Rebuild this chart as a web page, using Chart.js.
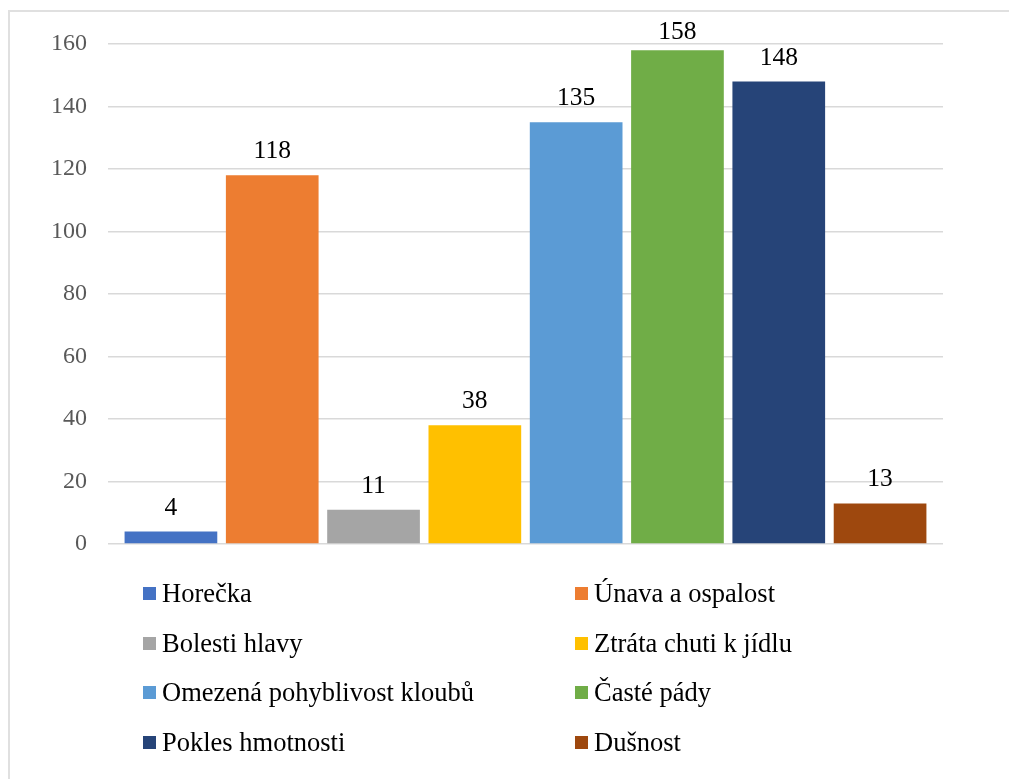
<!DOCTYPE html>
<html>
<head>
<meta charset="utf-8">
<script src="https://cdn.jsdelivr.net/npm/chart.js@4.4.1/dist/chart.umd.min.js"></script>
<style>
    html, body { margin: 0; padding: 0; background: #fff; }
    #wrap { position: relative; width: 1009px; height: 779px; overflow: hidden; }
    #frame { position: absolute; left: 8px; top: 10px; width: 1100px; height: 900px;
             border-left: 2px solid #e0e0e0; border-top: 2px solid #e0e0e0; }
    #chart { position: absolute; left: 0; top: 0; }
    .legend-item { position: absolute; height: 30px; display: flex; align-items: center;
                   font-family: "Liberation Serif", "Times New Roman", serif; font-size: 26.5px;
                   color: #000; white-space: nowrap; }
    .legend-box { width: 13px; height: 13px; margin-right: 6px; flex: none; }
</style>
</head>
<body>
<div id="wrap">
    <div id="frame"></div>
    <canvas id="chart" width="1009" height="779"></canvas>
    <div id="legend"></div>
</div>
<script>
const seriesNames = [
    'Horečka', 'Únava a ospalost', 'Bolesti hlavy', 'Ztráta chuti k jídlu',
    'Omezená pohyblivost kloubů', 'Časté pády', 'Pokles hmotnosti', 'Dušnost'
];
const seriesValues = [4, 118, 11, 38, 135, 158, 148, 13];
const seriesColors = ['#4472C4', '#ED7D31', '#A5A5A5', '#FFC000', '#5B9BD5', '#70AD47', '#264478', '#9E480E'];
const yTicks = [0, 20, 40, 60, 80, 100, 120, 140, 160];

const serif = '"Liberation Serif", "Times New Roman", serif';

// value labels above each bar (kept inside the frame like Excel does)
const barLabels = {
    id: 'barLabels',
    afterDatasetsDraw(chart) {
        const ctx = chart.ctx;
        ctx.save();
        ctx.font = '25.5px ' + serif;
        ctx.fillStyle = '#000';
        ctx.textAlign = 'center';
        ctx.textBaseline = 'alphabetic';
        chart.data.datasets.forEach((ds, i) => {
            const bar = chart.getDatasetMeta(i).data[0];
            const y = Math.max(bar.y - 17, 39);
            ctx.fillText(String(ds.data[0]), bar.x, y);
        });
        ctx.restore();
    }
};

new Chart(document.getElementById('chart'), {
    type: 'bar',
    data: {
        labels: [''],
        datasets: seriesNames.map((name, i) => ({
            label: name,
            data: [seriesValues[i]],
            backgroundColor: seriesColors[i],
            categoryPercentage: 0.9706,
            barPercentage: 0.915
        }))
    },
    options: {
        responsive: false,
        animation: false,
        layout: {
            padding: { left: 0, right: 66, top: 44, bottom: 235 }
        },
        plugins: {
            legend: { display: false },
            tooltip: { enabled: false }
        },
        scales: {
            x: { display: false },
            y: {
                min: 0,
                max: 160,
                afterFit: (scale) => { scale.width = 108; },
                afterBuildTicks: (scale) => { scale.ticks = yTicks.map(v => ({ value: v })); },
                border: { display: false },
                grid: { color: '#d9d9d9', lineWidth: 1.5, drawTicks: false },
                ticks: {
                    padding: 21,
                    color: '#595959',
                    font: { family: serif, size: 24 }
                }
            }
        }
    },
    plugins: [barLabels]
});

// two-column legend under the plot
const legend = document.getElementById('legend');
const rowTops = [593, 643, 692, 742];
seriesNames.forEach((name, i) => {
    const item = document.createElement('div');
    item.className = 'legend-item';
    item.style.left = (i % 2 === 0 ? 143 : 575) + 'px';
    item.style.top = (rowTops[Math.floor(i / 2)] - 15) + 'px';
    const box = document.createElement('span');
    box.className = 'legend-box';
    box.style.background = seriesColors[i];
    item.appendChild(box);
    item.appendChild(document.createTextNode(name));
    legend.appendChild(item);
});
</script>
</body>
</html>
